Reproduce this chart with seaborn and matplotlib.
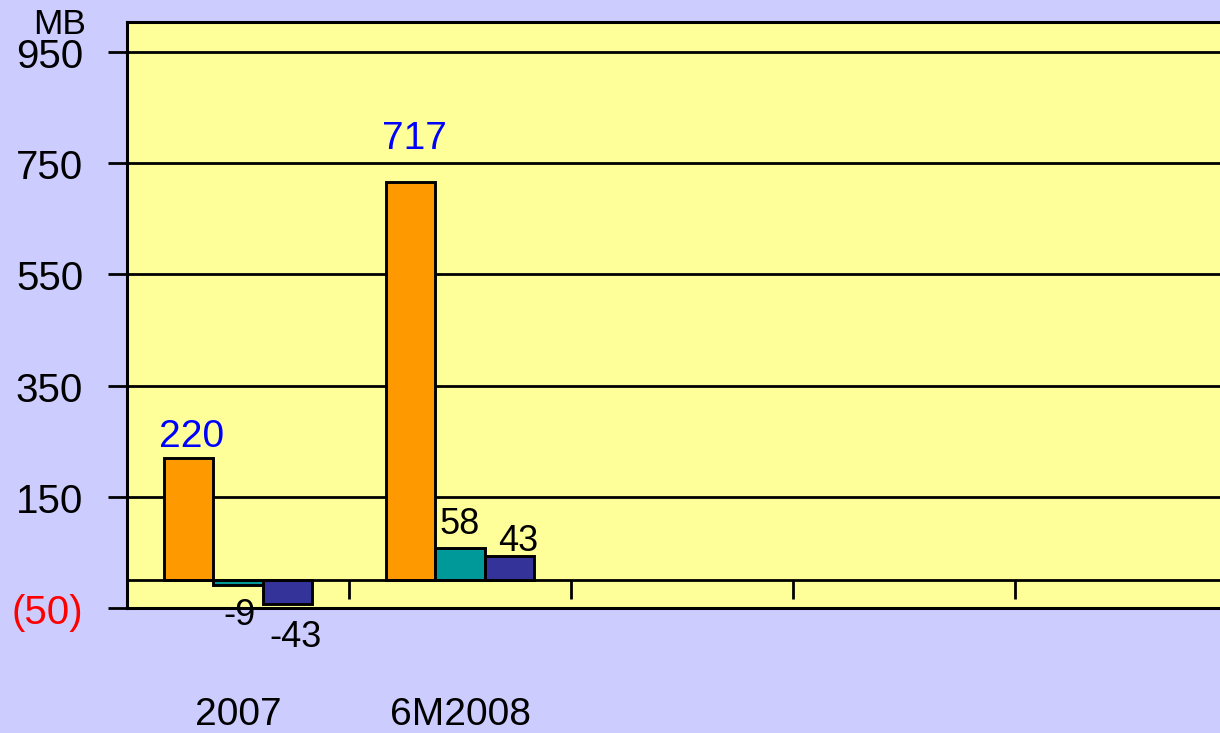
import matplotlib
matplotlib.use("Agg")
import matplotlib.pyplot as plt
import seaborn as sns
import pandas as pd

# ---- data ----
categories = ["2007", "6M2008"]
all_slots = ["2007", "6M2008", "_c3", "_c4", "_c5"]
series = ["A", "B", "C"]
values_a = [220, 717]
values_b = [-9, 58]
values_c = [-43, 43]
label_text = {("A", 0): "220", ("A", 1): "717",
              ("B", 0): "-9", ("B", 1): "58",
              ("C", 0): "-43", ("C", 1): "43"}
ytick_vals = [-50, 150, 350, 550, 750, 950]
ytick_labels = ["(50)", "150", "350", "550", "750", "950"]

colors = ["#FF9900", "#009999", "#333399"]
label_colors = {"A": "#0000FF", "B": "black", "C": "black"}
label_sizes = {"A": 28, "B": 26, "C": 26}
# label offsets in points (dx, dy)
label_offsets = {("A", 0): (2, 15), ("A", 1): (3, 31),
                 ("B", 0): (1, -22), ("B", 1): (0, 17),
                 ("C", 0): (6, -24), ("C", 1): (6, 11)}

rows = []
for s, vals in zip(series, [values_a, values_b, values_c]):
    for c, v in zip(categories, vals):
        rows.append({"cat": c, "series": s, "val": v})
df = pd.DataFrame(rows)

sns.set_theme(style="white")
plt.rcParams["font.family"] = ["Liberation Sans", "DejaVu Sans"]

fig = plt.figure(figsize=(12.2, 7.33), dpi=100, facecolor="#CCCCFF")
ax = fig.add_axes([127 / 1220, 1 - 608 / 733, 1110 / 1220, 586 / 733])
ax.set_facecolor("#FFFF99")

sns.barplot(data=df, x="cat", y="val", hue="series", order=all_slots,
            hue_order=series, palette=colors, width=0.667, saturation=1,
            edgecolor="black", linewidth=2.1, legend=False, ax=ax, zorder=3)

ax.set_xlim(-0.5, 4.5)
ax.set_ylim(-50, 1004)

ax.set_yticks(ytick_vals)
ax.set_yticklabels([])
ax.tick_params(axis="y", length=14, width=2, color="black", direction="out", left=True)
for v, lab in zip(ytick_vals, ytick_labels):
    ax.annotate(lab, xy=(0, v), xycoords=ax.get_yaxis_transform(),
                xytext=(-31.5, -3.6), textcoords="offset points",
                ha="right", va="center", fontsize=29,
                color="red" if lab.startswith("(") else "black",
                annotation_clip=False)
for v in ytick_vals[1:]:
    ax.axhline(v, color="black", lw=2, zorder=1)
ax.axhline(0, color="black", lw=2, zorder=4)

ax.set_xticks([])
ax.set_xlabel("")
ax.set_ylabel("")
ax.vlines([0.5, 1.5, 2.5, 3.5], -34, 0, color="black", lw=2, zorder=4)

for sp in ax.spines.values():
    sp.set_color("black")
    sp.set_linewidth(2.2)

for i, c in enumerate(categories):
    ax.text(i, -0.1826, c, transform=ax.get_xaxis_transform(), ha="center",
            va="center", fontsize=28, color="black")

for s_idx, cont in enumerate(ax.containers):
    s = series[s_idx]
    for bar in cont:
        h = bar.get_height()
        if h != h:
            continue
        xc = bar.get_x() + bar.get_width() / 2
        j = int(round(xc))
        if (s, j) not in label_text:
            continue
        dx, dy = label_offsets[(s, j)]
        ax.annotate(label_text[(s, j)], xy=(xc, h), xytext=(dx, dy),
                    textcoords="offset points", ha="center", va="center",
                    fontsize=label_sizes[s], color=label_colors[s], zorder=5)

fig.text(86 / 1220, 1 - 24 / 733, "MB", ha="right", va="center", fontsize=25.5, color="black")

fig.savefig("out.png", dpi=100, facecolor=fig.get_facecolor())
